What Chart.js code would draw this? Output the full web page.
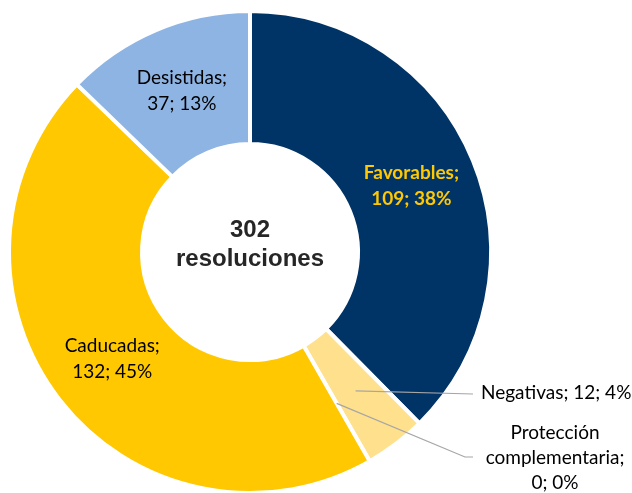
<!DOCTYPE html>
<html lang="es">
<head>
<meta charset="utf-8">
<title>Resoluciones</title>
<script src="https://cdn.jsdelivr.net/npm/chart.js@4.4.1/dist/chart.umd.min.js"></script>
<style>
  html, body { margin: 0; padding: 0; background: #fff; overflow: hidden; }
  #wrap { position: relative; width: 632px; height: 500px; }
</style>
</head>
<body>
<div id="wrap"><canvas id="resoluciones-chart"></canvas></div>
<script>
const categorias = ["Favorables", "Negativas", "Protección complementaria", "Caducadas", "Desistidas"]
const valores = [109, 12, 0, 132, 37]
const porcentajes = [38, 4, 0, 45, 13]
const totalResoluciones = 302

const colores = ["#003366", "#FFE08C", "#FFE08C", "#FFC800", "#8EB4E3"]

const labelFont = "Lato, 'Open Sans', sans-serif"

// etiquetas de cada sector + texto central
const sliceLabels = {
  id: "sliceLabels",
  afterDatasetsDraw(chart) {
    const ctx = chart.ctx
    const arcs = chart.getDatasetMeta(0).data
    const cx = arcs[0].x
    const cy = arcs[0].y

    ctx.save()
    ctx.textAlign = "center"
    ctx.textBaseline = "middle"

    const drawLines = (lines, x, y, step) => {
      const top = y - (lines.length - 1) * step / 2
      lines.forEach((l, i) => ctx.fillText(l, x, top + i * step))
    }

    // dentro del anillo
    ;[0, 3, 4].forEach(i => {
      const p = arcs[i].tooltipPosition()
      const lines = [categorias[i] + ";", `${valores[i]}; ${porcentajes[i]}%`]
      if (i === 0) {
        ctx.fillStyle = "#FFC800"
        ctx.font = `bold 19px ${labelFont}`
      } else {
        ctx.fillStyle = "#000000"
        ctx.font = `19px ${labelFont}`
      }
      drawLines(lines, p.x, p.y, 26)
    })

    // fuera, con línea guía
    ctx.strokeStyle = "#A6A6A6"
    ctx.lineWidth = 1.2
    ctx.fillStyle = "#000000"
    ctx.font = `19px ${labelFont}`

    let p = arcs[1].tooltipPosition()
    ctx.beginPath()
    ctx.moveTo(p.x, p.y)
    ctx.lineTo(473, 394)
    ctx.stroke()
    ctx.textAlign = "left"
    ctx.fillText(`${categorias[1]}; ${valores[1]}; ${porcentajes[1]}%`, 481, 393)

    p = arcs[2].tooltipPosition()
    ctx.beginPath()
    ctx.moveTo(p.x, p.y)
    ctx.lineTo(465, 457)
    ctx.lineTo(473, 457)
    ctx.stroke()
    ctx.textAlign = "center"
    const [w1, w2] = categorias[2].split(" ")
    drawLines([w1, w2 + ";", `${valores[2]}; ${porcentajes[2]}%`], 555, 458, 25)

    // centro
    ctx.fillStyle = "#262626"
    ctx.font = "bold 24px 'Liberation Sans', Arial, sans-serif"
    ctx.fillText(String(totalResoluciones), cx, cy - 22)
    ctx.fillText("resoluciones", cx, cy + 7)
    ctx.restore()
  }
}

const chart = new Chart("resoluciones-chart", {
  type: "doughnut",
  data: {
    labels: categorias,
    datasets: [{
      data: valores,
      backgroundColor: colores,
      borderColor: "#ffffff",
      borderWidth: 4
    }]
  },
  options: {
    responsive: true,
    maintainAspectRatio: false,
    animation: false,
    cutout: "44.8%",
    layout: { padding: { left: 7, right: 139, top: 9, bottom: 5 } },
    plugins: {
      legend: { display: false },
      tooltip: { enabled: false }
    }
  },
  plugins: [sliceLabels]
})
</script>
</body>
</html>
